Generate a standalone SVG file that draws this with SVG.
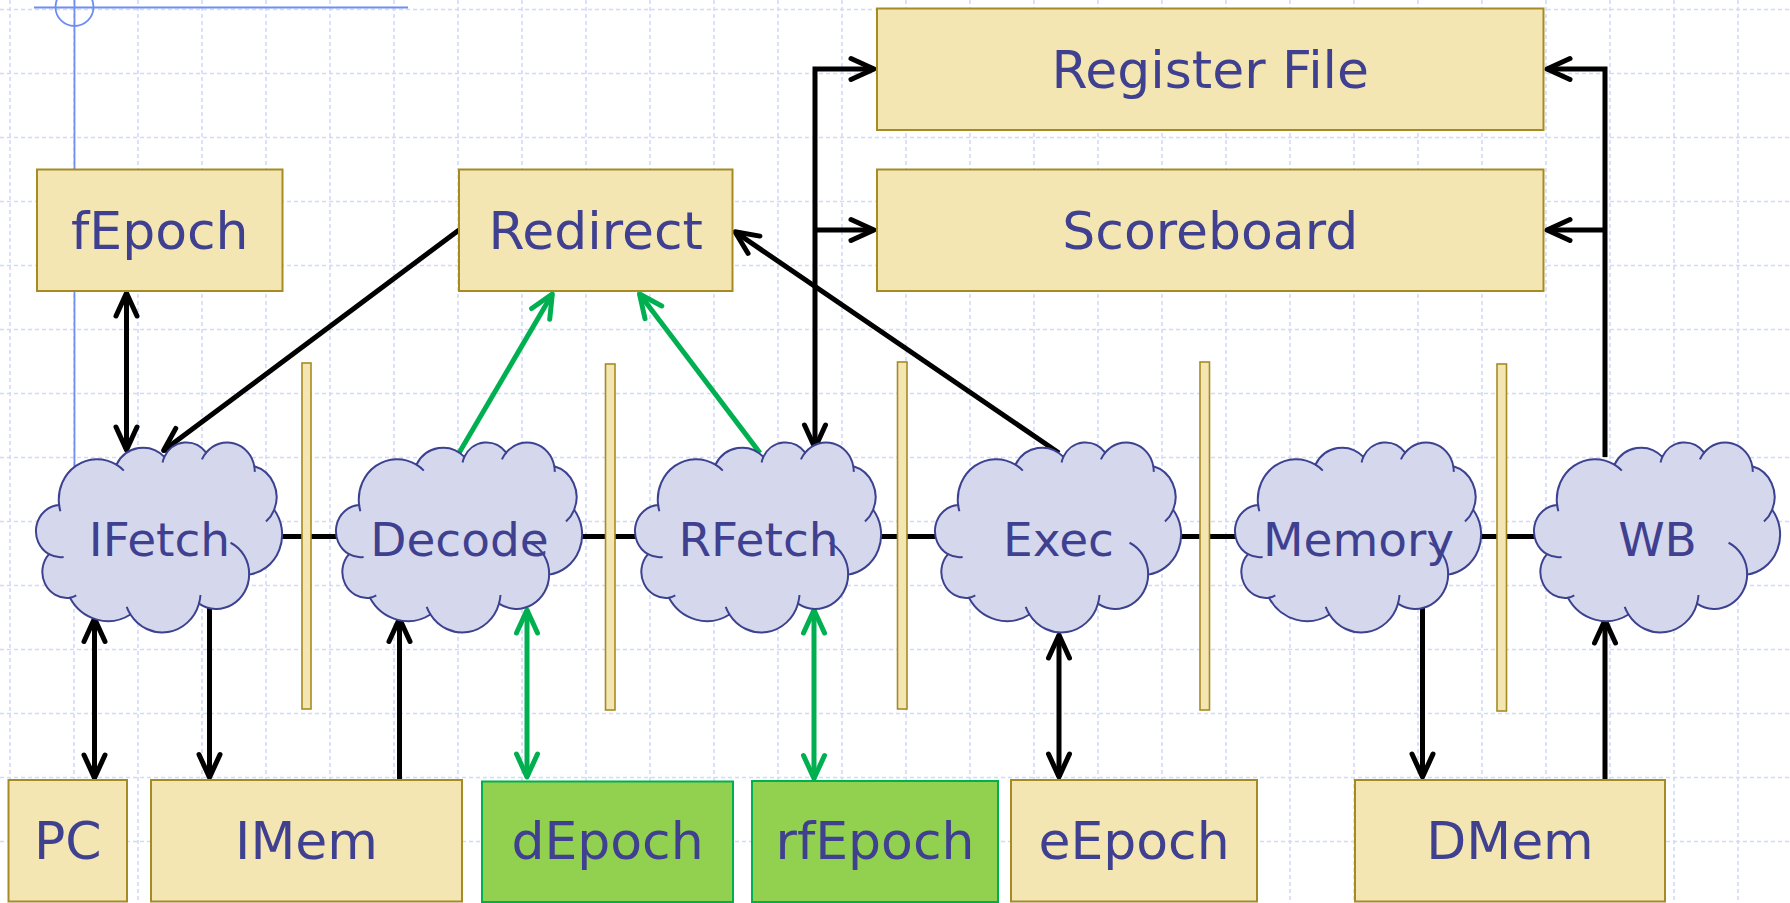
<svg xmlns="http://www.w3.org/2000/svg" xmlns:xlink="http://www.w3.org/1999/xlink" width="1790" height="903" viewBox="0 0 1790 903">
  <style>
    .grid { fill: none; stroke: #d0dbf8; stroke-width: 1.6; stroke-dasharray: 4 3; }
    .guide { fill: none; stroke: #6e8ef0; stroke-width: 1.8; }
    .box { fill: #f3e6b3; stroke: #a68b24; stroke-width: 2; }
    .epoch { fill: #92d050; stroke: #00b050; stroke-width: 2; }
    .bar { fill: #f3e6b3; stroke: #a68b24; stroke-width: 1.6; }
    .cloud { fill: #d5d8ec; stroke: #3c4190; stroke-width: 2; }
    .crease { fill: none; stroke: #3c4190; stroke-width: 2; }
    .label { font-family: "DejaVu Sans", Verdana, sans-serif; fill: #404090; text-anchor: middle; }
    .big { font-size: 52px; }
    .stage { font-size: 47px; }
    .wire { fill: none; stroke: #000; stroke-width: 5; }
    .wire.arr { marker-end: url(#head); }
    .wire.both { marker-start: url(#head); marker-end: url(#head); }
    .epochwire { fill: none; stroke: #00b050; stroke-width: 5; }
    .epochwire.arr { marker-end: url(#ghead); }
    .epochwire.both { marker-start: url(#ghead); marker-end: url(#ghead); }
  </style>
  <defs>
    <marker id="head" markerUnits="userSpaceOnUse" viewBox="-32 -16 38 32" markerWidth="38" markerHeight="32" refX="0" refY="0" orient="auto-start-reverse">
      <path d="M-23,-10.5 L0,0 L-23,10.5" fill="none" stroke="#000" stroke-width="5" stroke-linecap="round" stroke-linejoin="round"/>
    </marker>
    <marker id="ghead" markerUnits="userSpaceOnUse" viewBox="-32 -16 38 32" markerWidth="38" markerHeight="32" refX="0" refY="0" orient="auto-start-reverse">
      <path d="M-23,-10.5 L0,0 L-23,10.5" fill="none" stroke="#00b050" stroke-width="5" stroke-linecap="round" stroke-linejoin="round"/>
    </marker>
    <!-- cloud outline, 245 x 191 -->
    <path id="cloud-shape" class="cloud" d="M22.12,63.20 A38.30,40.42 0 0 1 79.43,22.88 A30.24,31.96 0 0 1 127.36,15.09 A24.76,26.15 0 0 1 169.19,10.90 A27.55,29.01 0 0 1 217.31,24.51 A30.24,31.99 0 0 1 237.16,67.98 A38.42,40.55 0 0 1 212.14,132.83 A32.81,34.60 0 0 1 161.96,161.90 A38.29,40.53 0 0 1 93.49,172.70 A43.78,46.37 0 0 1 32.93,156.01 A24.73,26.03 0 0 1 12.00,112.37 A24.64,26.15 0 0 1 22.12,63.20 Z"/>
    <!-- inner lobe strokes of the cloud -->
    <path id="cloud-creases" class="crease" d="M26.62,115.13 A24.64,26.15 0 0 1 12.00,112.37 M39.29,153.49 A24.73,26.03 0 0 1 32.93,156.01 M93.49,172.70 A38.29,40.53 0 0 1 89.69,165.03 M163.49,153.20 A38.29,40.53 0 0 1 161.96,161.90 M193.56,100.95 A32.81,34.60 0 0 1 212.14,132.83 M237.16,67.98 A30.24,31.99 0 0 1 228.95,79.75 M217.31,24.51 A27.55,29.01 0 0 1 217.74,30.07 M164.90,17.60 A27.55,29.01 0 0 1 169.19,10.90 M125.57,20.76 A24.76,26.15 0 0 1 127.36,15.09 M79.43,22.88 A38.30,40.42 0 0 1 86.80,28.81 M23.40,69.44 A38.30,40.42 0 0 1 22.12,63.20"/>
  </defs>

  <rect width="1790" height="903" fill="#ffffff"/>

  <!-- background grid -->
  <path class="grid" d="M10,0V903M74,0V903M138,0V903M202,0V903M266,0V903M330,0V903M394,0V903M458,0V903M522,0V903M586,0V903M650,0V903M714,0V903M778,0V903M842,0V903M906,0V903M970,0V903M1034,0V903M1098,0V903M1162,0V903M1226,0V903M1290,0V903M1354,0V903M1418,0V903M1482,0V903M1546,0V903M1610,0V903M1674,0V903M1738,0V903"/>
  <path class="grid" d="M0,9.5H1790M0,73.5H1790M0,137.5H1790M0,201.5H1790M0,265.5H1790M0,329.5H1790M0,393.5H1790M0,457.5H1790M0,521.5H1790M0,585.5H1790M0,649.5H1790M0,713.5H1790M0,777.5H1790M0,841.5H1790"/>

  <!-- guide -->
  <g id="guide">
    <circle class="guide" cx="74.5" cy="7" r="19"/>
    <path class="guide" d="M34,7.5H408M74.5,0V500"/>
  </g>

  <!-- connectors -->
  <g id="connectors">
    <path class="wire" d="M250,536.5H1560"/>
    <path class="wire both" d="M126.5,293V450"/>
    <path class="wire arr" d="M459,230L163.6,450.5"/>
    <path class="epochwire arr" d="M459,453L552.3,294"/>
    <path class="epochwire arr" d="M760,453L639.5,294"/>
    <path class="wire arr" d="M1059,453L735,231.8"/>
    <path class="wire both" d="M874,69H815V448"/>
    <path class="wire arr" d="M815,230H874"/>
    <path class="wire arr" d="M1605,457V69H1547"/>
    <path class="wire arr" d="M1605,230H1547"/>
    <path class="wire both" d="M94.5,618.5V778"/>
    <path class="wire arr" d="M209.5,607V777.5"/>
    <path class="wire arr" d="M399.5,781V618.5"/>
    <path class="epochwire both" d="M527,610V777"/>
    <path class="epochwire both" d="M814,610V778.5"/>
    <path class="wire both" d="M1059,635V777"/>
    <path class="wire arr" d="M1422.5,607V777"/>
    <path class="wire arr" d="M1605,780V620"/>
  </g>

  <!-- pipeline registers -->
  <g id="pipeline-registers">
    <rect id="reg-f-d" class="bar" x="302" y="363" width="9" height="346"/>
    <rect id="reg-d-r" class="bar" x="605.5" y="364" width="9.5" height="346"/>
    <rect id="reg-r-e" class="bar" x="897.5" y="362" width="9.5" height="347"/>
    <rect id="reg-e-m" class="bar" x="1200" y="362" width="9.5" height="348"/>
    <rect id="reg-m-w" class="bar" x="1497" y="364" width="9.5" height="347"/>
  </g>

  <!-- stages -->
  <g id="IFetch" transform="translate(37,441.8)">
    <use xlink:href="#cloud-shape"/><use xlink:href="#cloud-creases"/>
    <text class="label stage" x="122.5" y="114.2">IFetch</text>
  </g>
  <g id="Decode" transform="translate(337,441.8)">
    <use xlink:href="#cloud-shape"/><use xlink:href="#cloud-creases"/>
    <text class="label stage" x="122.5" y="114.2">Decode</text>
  </g>
  <g id="RFetch" transform="translate(636,441.8)">
    <use xlink:href="#cloud-shape"/><use xlink:href="#cloud-creases"/>
    <text class="label stage" x="122.5" y="114.2">RFetch</text>
  </g>
  <g id="Exec" transform="translate(936,441.8)">
    <use xlink:href="#cloud-shape"/><use xlink:href="#cloud-creases"/>
    <text class="label stage" x="122.5" y="114.2">Exec</text>
  </g>
  <g id="Memory" transform="translate(1236,441.8)">
    <use xlink:href="#cloud-shape"/><use xlink:href="#cloud-creases"/>
    <text class="label stage" x="122.5" y="114.2">Memory</text>
  </g>
  <g id="WB" transform="translate(1535,441.8)">
    <use xlink:href="#cloud-shape"/><use xlink:href="#cloud-creases"/>
    <text class="label stage" x="122.5" y="114.2">WB</text>
  </g>

  <!-- state elements -->
  <g id="RegisterFile">
    <rect class="box" x="877" y="8.5" width="666.5" height="121.5"/>
    <text class="label big" x="1210.25" y="88">Register File</text>
  </g>
  <g id="Scoreboard">
    <rect class="box" x="877" y="169.5" width="666.5" height="121.5"/>
    <text class="label big" x="1210.25" y="249">Scoreboard</text>
  </g>
  <g id="fEpoch">
    <rect class="box" x="37" y="169.5" width="245.5" height="121.5"/>
    <text class="label big" x="159.75" y="249">fEpoch</text>
  </g>
  <g id="Redirect">
    <rect class="box" x="459" y="169.5" width="273.5" height="121.5"/>
    <text class="label big" x="595.75" y="249">Redirect</text>
  </g>
  <g id="PC">
    <rect class="box" x="8.5" y="780" width="118.5" height="121.5"/>
    <text class="label big" x="67.75" y="859">PC</text>
  </g>
  <g id="IMem">
    <rect class="box" x="151" y="780" width="311" height="121.5"/>
    <text class="label big" x="306.5" y="859">IMem</text>
  </g>
  <g id="dEpoch">
    <rect class="epoch" x="482" y="781.5" width="251" height="120.5"/>
    <text class="label big" x="607.5" y="859">dEpoch</text>
  </g>
  <g id="rfEpoch">
    <rect class="epoch" x="752" y="781" width="246" height="121"/>
    <text class="label big" x="875" y="859">rfEpoch</text>
  </g>
  <g id="eEpoch">
    <rect class="box" x="1011" y="780" width="246" height="121.5"/>
    <text class="label big" x="1134" y="859">eEpoch</text>
  </g>
  <g id="DMem">
    <rect class="box" x="1355" y="780" width="310" height="121.5"/>
    <text class="label big" x="1510" y="859">DMem</text>
  </g>
</svg>
